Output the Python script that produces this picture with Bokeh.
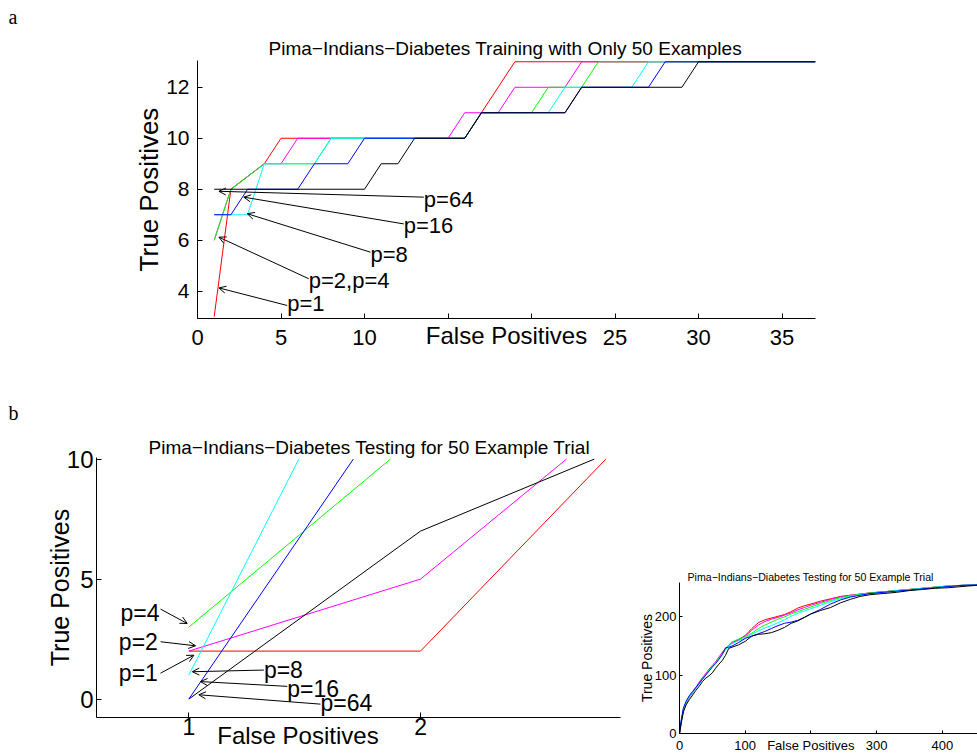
from bokeh.plotting import figure
from bokeh.models import Range1d, Label, Arrow, OpenHead, FixedTicker, Title, LinearAxis
from bokeh.layouts import column, row
from bokeh.embed import file_html
from bokeh.resources import INLINE

# ---------------- data ----------------
series_names = ["p=1", "p=2", "p=4", "p=8", "p=16", "p=64"]
series_colors = ["#ff0000", "#ff00ff", "#00ff00", "#00ffff", "#0000ff", "#000000"]

# Panel a: training ROC, 50 examples
a_x = [
    [1, 2, 4, 5, 16, 17, 19, 37],
    [1, 2, 4, 5, 6, 15, 16, 18, 19, 22, 23, 37],
    [1, 2, 4, 7, 8, 16, 17, 20, 21, 23, 24, 37],
    [1, 3, 4, 7, 8, 16, 17, 21, 22, 26, 27, 37],
    [1, 2, 3, 6, 7, 9, 10, 16, 17, 22, 23, 27, 28, 37],
    [1, 10, 11, 12, 13, 16, 17, 22, 23, 29, 30, 37],
]
a_y = [
    [3, 8, 9, 10, 10, 11, 13, 13],
    [6, 8, 9, 9, 10, 10, 11, 11, 12, 12, 13, 13],
    [6, 8, 9, 9, 10, 10, 11, 11, 12, 12, 13, 13],
    [7, 7, 9, 9, 10, 10, 11, 11, 12, 12, 13, 13],
    [7, 7, 8, 8, 9, 9, 10, 10, 11, 11, 12, 12, 13, 13],
    [8, 8, 9, 9, 10, 10, 11, 11, 12, 12, 13, 13],
]
a_xticks = [0, 5, 10, 15, 20, 25, 30, 35]
a_yticks = [4, 6, 8, 10, 12]
a_ann_text = ["p=64", "p=16", "p=8", "p=2,p=4", "p=1"]
a_ann_tx = [13.55, 12.35, 10.36, 6.66, 5.37]
a_ann_ty = [7.61, 6.59, 5.46, 4.44, 3.50]
a_arr_x0 = [13.55, 12.35, 10.36, 6.66, 5.37]
a_arr_y0 = [7.69, 6.64, 5.53, 4.49, 3.44]
a_arr_x1 = [1.28, 2.77, 2.98, 1.28, 1.28]
a_arr_y1 = [7.92, 7.69, 7.04, 6.12, 4.13]

# Panel b: testing ROC, zoomed
b_x = [
    [1, 2, 2.8],
    [1, 2, 2.63],
    [1, 1.87],
    [1, 1.475],
    [1, 1.71],
    [1, 2, 2.75],
]
b_y = [
    [2, 2, 10],
    [2, 5, 10],
    [3, 10],
    [1, 10],
    [0, 10],
    [0, 7, 10],
]
b_xticks = [1, 2]
b_yticks = [0, 5, 10]
b_xlabel_at = 1.471
b_ann_text = ["p=4", "p=2", "p=1", "p=8", "p=16", "p=64"]
b_ann_tx = [0.705, 0.698, 0.698, 1.324, 1.425, 1.568]
b_ann_ty = [3.60, 2.38, 1.09, 1.23, 0.44, -0.16]
b_arr_x0 = [0.878, 0.878, 0.878, 1.324, 1.425, 1.568]
b_arr_y0 = [3.75, 2.39, 1.08, 1.21, 0.53, -0.21]
b_arr_x1 = [0.993, 1.029, 1.022, 1.015, 1.050, 1.043]
b_arr_y1 = [3.15, 2.22, 1.83, 1.14, 0.73, 0.18]

# Panel c: full testing ROC
c_x = [0, 3, 6, 10, 15, 20, 25, 30, 35, 40, 45, 50, 55, 60, 65, 70, 75, 80, 90, 100,
       110, 120, 130, 140, 150, 160, 170, 180, 190, 200, 215, 230, 245, 260, 275, 290,
       310, 330, 350, 370, 390, 410, 430, 463]
c_y = [
    [0, 22, 40, 52, 62, 70, 78, 87, 95, 102, 110, 117, 122, 130, 138, 145, 151, 156, 161, 168,
     180, 190, 195, 198, 201, 204, 209, 215, 219, 222, 227, 231, 235, 237, 239, 241, 243, 245, 247, 249,
     251, 253, 254, 255],
    [0, 24, 41, 53, 63, 72, 79, 88, 96, 103, 110, 116, 123, 131, 139, 146, 151, 155, 160, 167,
     177, 186, 192, 196, 199, 203, 207, 212, 216, 220, 225, 230, 234, 237, 239, 241, 243, 245, 247, 249,
     251, 253, 254, 255],
    [0, 23, 41, 53, 64, 72, 78, 86, 94, 101, 109, 116, 122, 129, 137, 144, 152, 157, 162, 166,
     172, 180, 186, 191, 196, 200, 205, 209, 213, 217, 223, 228, 233, 236, 239, 241, 243, 245, 247, 249,
     251, 253, 254, 255],
    [0, 25, 42, 54, 63, 71, 77, 85, 93, 101, 108, 115, 121, 128, 136, 143, 150, 154, 159, 164,
     170, 176, 181, 185, 190, 195, 201, 206, 210, 214, 220, 226, 231, 235, 238, 240, 242, 245, 247, 249,
     251, 253, 254, 255],
    [0, 26, 44, 55, 65, 72, 79, 86, 93, 100, 107, 114, 120, 127, 135, 147, 148, 150, 156, 163,
     167, 171, 175, 180, 185, 189, 191, 194, 199, 205, 213, 222, 229, 234, 237, 240, 242, 244, 246, 248,
     250, 252, 254, 255],
    [0, 20, 37, 49, 58, 66, 74, 81, 89, 95, 99, 104, 112, 119, 125, 134, 146, 148, 152, 158,
     167, 170, 171, 173, 177, 182, 189, 193, 199, 205, 211, 216, 224, 230, 235, 238, 240, 242, 245, 247,
     249, 250, 252, 255],
]
c_xticks = [0, 100, 200, 300, 400]
c_yticks = [0, 100, 200]

title_a = "Pima\u2212Indians\u2212Diabetes Training with Only 50 Examples"
title_b = "Pima\u2212Indians\u2212Diabetes Testing for 50 Example Trial"
xlabel = "False Positives"
ylabel = "True Positives"

SANS = "Liberation Sans"
SERIF = "Liberation Serif"


def base_fig(w, h, xr, yr, bl, br, bt, bb):
    p = figure(width=w, height=h, x_range=Range1d(*xr), y_range=Range1d(*yr),
               output_backend="svg", toolbar_location=None,
               min_border_left=bl, min_border_right=br,
               min_border_top=bt, min_border_bottom=bb)
    try:
        p.frame_align = False
    except Exception:
        pass
    p.outline_line_color = None
    p.xgrid.visible = False
    p.ygrid.visible = False
    p.background_fill_color = "white"
    p.border_fill_color = "white"
    for ax in (p.xaxis[0], p.yaxis[0]):
        ax.major_tick_out = 0
        ax.major_tick_in = 5
        ax.minor_tick_line_color = None
        ax.axis_line_color = "black"
        ax.major_tick_line_color = "black"
        ax.major_label_text_color = "black"
        ax.major_label_text_font = SANS
        ax.axis_label_text_font = SANS
        ax.axis_label_text_font_style = "normal"
        ax.axis_label_text_color = "black"
    return p


def add_title(p, text, size, offset, standoff, font=SANS, valign="bottom"):
    t = Title(text=text, align="left", offset=offset, standoff=standoff,
              vertical_align=valign,
              text_font=font, text_font_size=size, text_font_style="normal",
              text_color="black")
    p.add_layout(t, "above")


# ---------------- panel a ----------------
pa = base_fig(977, 380, (0, 37), (2.93, 13.05), 197, 162, 60, 62)
add_title(pa, title_a, "19px", 71, 4)
add_title(pa, "a", "20px", -189, 8, font=SERIF, valign="top")
pa.xaxis.ticker = FixedTicker(ticks=a_xticks)
pa.xaxis.major_label_overrides = {15: "", 20: ""}
pa.yaxis.ticker = FixedTicker(ticks=a_yticks)
pa.xaxis.major_label_text_font_size = "22px"
pa.yaxis.major_label_text_font_size = "21px"
pa.xaxis.major_label_standoff = 11
pa.yaxis.major_label_standoff = 8
pa.xaxis.axis_label = xlabel
pa.xaxis.axis_label_text_font_size = "24px"
pa.xaxis.axis_label_standoff = -26
pa.yaxis.axis_label = ylabel
pa.yaxis.axis_label_text_font_size = "26px"
pa.yaxis.axis_label_standoff = -1
for xs, ys, c in zip(a_x, a_y, series_colors):
    pa.line(xs, ys, line_color=c, line_width=1)
for t, tx, ty in zip(a_ann_text, a_ann_tx, a_ann_ty):
    pa.add_layout(Label(x=tx, y=ty, text=t, text_font=SANS, text_font_size="22px",
                        text_align="left", text_baseline="alphabetic", text_color="black"))
for x0, y0, x1, y1 in zip(a_arr_x0, a_arr_y0, a_arr_x1, a_arr_y1):
    pa.add_layout(Arrow(end=OpenHead(size=7, line_width=1, line_color="black"),
                        x_start=x0, y_start=y0, x_end=x1, y_end=y1,
                        line_color="black", line_width=1))

# ---------------- panel b ----------------
pb = base_fig(634, 376, (0.6016, 2.863), (-0.767, 10.067), 96, 14, 77, 39)
add_title(pb, title_b, "19px", 52, 0)
add_title(pb, "b", "20px", -88, 21, font=SERIF, valign="bottom")
pb.xaxis.ticker = FixedTicker(ticks=b_xticks)
pb.yaxis.ticker = FixedTicker(ticks=b_yticks)
pb.xaxis.major_label_text_font_size = "23px"
pb.yaxis.major_label_text_font_size = "24px"
pb.xaxis.major_label_standoff = 0
pb.yaxis.major_label_standoff = 3
pb.yaxis.axis_label = ylabel
pb.yaxis.axis_label_text_font_size = "25px"
pb.yaxis.axis_label_standoff = -10
# x-axis title row (placed where the original figure puts it)
bx2 = LinearAxis(ticker=FixedTicker(ticks=[b_xlabel_at]),
                 major_label_overrides={b_xlabel_at: xlabel},
                 axis_line_color=None, major_tick_line_color=None,
                 minor_tick_line_color=None, major_tick_in=0, major_tick_out=0,
                 major_label_standoff=-16, major_label_text_font=SANS,
                 major_label_text_font_size="24px", major_label_text_color="black")
pb.add_layout(bx2, "below")
for xs, ys, c in zip(b_x, b_y, series_colors):
    pb.line(xs, ys, line_color=c, line_width=1)
for t, tx, ty in zip(b_ann_text, b_ann_tx, b_ann_ty):
    pb.add_layout(Label(x=tx, y=ty, text=t, text_font=SANS, text_font_size="23px",
                        text_align="left", text_baseline="alphabetic", text_color="black"))
for x0, y0, x1, y1 in zip(b_arr_x0, b_arr_y0, b_arr_x1, b_arr_y1):
    pb.add_layout(Arrow(end=OpenHead(size=7, line_width=1, line_color="black"),
                        x_start=x0, y_start=y0, x_end=x1, y_end=y1,
                        line_color="black", line_width=1))

# ---------------- panel c ----------------
pc = base_fig(343, 376, (0, 453.6), (0, 258.9), 45, 0, 202, 23)
add_title(pc, title_b, "10.6px", 8, 0)
pc.xaxis.ticker = FixedTicker(ticks=c_xticks)
pc.xaxis.major_label_overrides = {200: xlabel}
pc.yaxis.ticker = FixedTicker(ticks=c_yticks)
pc.xaxis.major_label_text_font_size = "13px"
pc.yaxis.major_label_text_font_size = "13px"
pc.xaxis.major_label_standoff = 4
pc.yaxis.major_label_standoff = 3
pc.xaxis.major_tick_in = 3
pc.yaxis.major_tick_in = 3
pc.yaxis.axis_label = ylabel
pc.yaxis.axis_label_text_font_size = "14px"
pc.yaxis.axis_label_standoff = -3
for ys, c in zip(c_y, series_colors):
    pc.line(c_x, ys, line_color=c, line_width=1)

layout = column(pa, row(pb, pc))
open("out.html", "w").write(file_html(layout, INLINE))
